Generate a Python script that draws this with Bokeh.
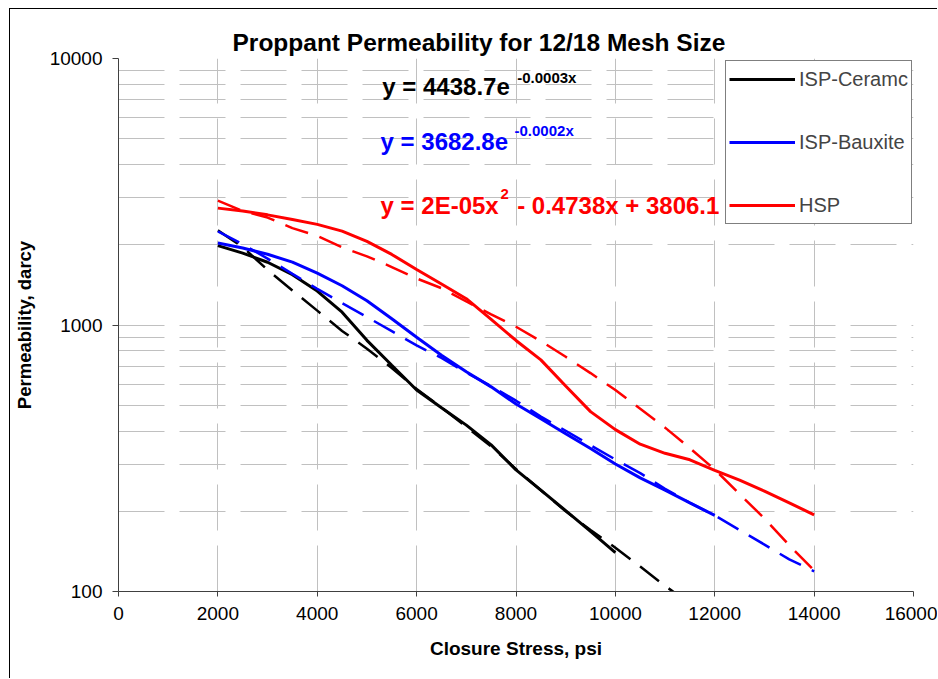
from bokeh.plotting import figure
from bokeh.models import (Legend, LegendItem, Label, FixedTicker,
                          PrintfTickFormatter, BasicTickFormatter)
from bokeh.embed import file_html
from bokeh.resources import INLINE

# ---------------- data ----------------
stress = [2000, 2500, 3000, 3500, 4000, 4500, 5000, 5500, 6000, 6500, 7000,
          7500, 8000, 8500, 9000, 9500, 10000, 10500, 11000, 11500, 12000,
          12500, 13000, 13500, 14000]

ceramic_x = stress[:17]
ceramic = [1985, 1860, 1720, 1545, 1341, 1117, 876, 706, 570, 489, 421,
           355, 286, 240, 201, 168, 140]

ceramic_d_x = stress[:20]
ceramic_d = [2265, 1960, 1610, 1348, 1132, 950, 815, 690, 575, 490, 415,
             350, 288, 240, 200, 170, 146, 124, 105, 90]

bauxite_x = stress[:21]
bauxite = [2030, 1945, 1843, 1722, 1565, 1404, 1234, 1055, 900, 770, 668,
           586, 505, 445, 391, 344, 301, 267, 240, 215, 193]

bauxite_d_x = stress
bauxite_d = [2245, 2010, 1775, 1555, 1367, 1208, 1072, 948, 838, 752, 662,
             590, 520, 453, 401, 354, 313, 278, 243, 215, 193, 170, 150, 132, 119]

hsp_x = stress
hsp = [2745, 2680, 2590, 2490, 2385, 2250, 2060, 1840, 1615, 1425, 1255,
       1050, 875, 740, 590, 473, 405, 357, 330, 312, 285, 262, 238, 215, 194]

hsp_d_x = stress
hsp_d = [2930, 2680, 2530, 2310, 2160, 1955, 1810, 1650, 1495, 1375, 1225,
         1097, 985, 870, 760, 660, 570, 485, 412, 345, 287, 232, 188, 149, 120]

x_ticks = [0, 2000, 4000, 6000, 8000, 10000, 12000, 14000, 16000]
y_ticks = [100, 1000, 10000]
y_minor = [200, 300, 400, 500, 600, 700, 800, 900,
           2000, 3000, 4000, 5000, 6000, 7000, 8000, 9000]

series_names = ["ISP-Ceramc", "ISP-Bauxite", "HSP"]
title_text = "Proppant Permeability for 12/18 Mesh Size"

FONT = "Liberation Sans"
GRID = "#c0c0c0"

p = figure(width=928, height=670, x_range=(0, 16000), y_range=(100, 10000),
           y_axis_type="log", output_backend="svg", toolbar_location=None,
           min_border_left=108, min_border_right=25, min_border_top=49,
           min_border_bottom=88)
p.margin = (8, 0, 0, 9)
p.styles = {"border-top": "1px solid black", "border-left": "1px solid black"}
p.outline_line_color = None
p.background_fill_color = "white"
p.border_fill_color = "white"

# title
p.title.text = title_text
p.title.align = "left"
p.title.offset = 114
p.title.standoff = 5
p.title.text_font = FONT
p.title.text_font_size = "24.5px"
p.title.text_font_style = "bold"
p.title.text_color = "black"

# axes
p.xaxis.ticker = FixedTicker(ticks=x_ticks)
p.xaxis.formatter = BasicTickFormatter(use_scientific=False)
p.yaxis.ticker = FixedTicker(ticks=y_ticks, minor_ticks=y_minor)
p.yaxis.formatter = PrintfTickFormatter(format="%d")
for ax in (p.xaxis, p.yaxis):
    ax.axis_line_color = "#404040"
    ax.major_tick_line_color = "#404040"
    ax.major_tick_in = 0
    ax.minor_tick_line_color = None
    ax.major_label_text_font = FONT
    ax.major_label_text_font_size = "19px"
    ax.major_label_text_color = "black"
    ax.axis_label_text_font = FONT
    ax.axis_label_text_font_style = "bold"
    ax.axis_label_text_color = "black"
p.xaxis.major_tick_out = 5
p.yaxis.major_tick_out = 6
p.xaxis.major_label_standoff = 10
p.yaxis.major_label_standoff = 10
p.xaxis.axis_label = "Closure Stress, psi"
p.yaxis.axis_label = "Permeability, darcy"
p.xaxis.axis_label_text_font_size = "19px"
p.yaxis.axis_label_text_font_size = "18.5px"
p.xaxis.axis_label_standoff = 15
p.yaxis.axis_label_standoff = 12

# grids
p.xgrid.grid_line_color = GRID
p.xgrid.grid_line_dash = "46 15"
p.ygrid.grid_line_color = GRID
p.ygrid.grid_line_dash = "46 15"
p.ygrid.minor_grid_line_color = GRID
p.ygrid.minor_grid_line_dash = "46 15"

# data lines
r1 = p.line(ceramic_x, ceramic, line_color="black", line_width=3)
p.line(ceramic_d_x, ceramic_d, line_color="black", line_width=2.5, line_dash="24 12")
r2 = p.line(bauxite_x, bauxite, line_color="#0000ff", line_width=3)
p.line(bauxite_d_x, bauxite_d, line_color="#0000ff", line_width=2.5, line_dash="24 12")
r3 = p.line(hsp_x, hsp, line_color="#ff0000", line_width=3)
p.line(hsp_d_x, hsp_d, line_color="#ff0000", line_width=2.5, line_dash="24 12")

legend = Legend(items=[LegendItem(label=series_names[0], renderers=[r1]),
                       LegendItem(label=series_names[1], renderers=[r2]),
                       LegendItem(label=series_names[2], renderers=[r3])],
                location=(607, 367))
legend.label_text_font = FONT
legend.label_text_font_size = "20px"
legend.glyph_width = 66
legend.glyph_height = 30
legend.label_height = 30
legend.spacing = 33
legend.padding = 3
legend.label_standoff = 4
legend.margin = 0
legend.border_line_color = "black"
legend.border_line_width = 1
legend.background_fill_color = "white"
legend.background_fill_alpha = 1
p.add_layout(legend)


def lab(x, y, text, color, size, align="left"):
    p.add_layout(Label(x=x, y=y, text=text, text_color=color,
                       text_font=FONT, text_font_size=size,
                       text_font_style="bold", text_align=align,
                       text_baseline="middle"))


# trend-line equations
lab(5309, 7844, "y = 4438.7e", "black", "24px")
lab(8024, 8506, "-0.0003x", "black", "15px")
lab(5275, 4871, "y = 3682.8e", "#0000ff", "24px")
lab(7970, 5348, "-0.0002x", "#0000ff", "15px")
lab(5275, 2799, "y = 2E-05x", "#ff0000", "24px")
lab(7689, 3100, "2", "#ff0000", "15px")
lab(8024, 2799, "- 0.4738x + 3806.1", "#ff0000", "24px")

open("out.html", "w").write(file_html(p, INLINE))
